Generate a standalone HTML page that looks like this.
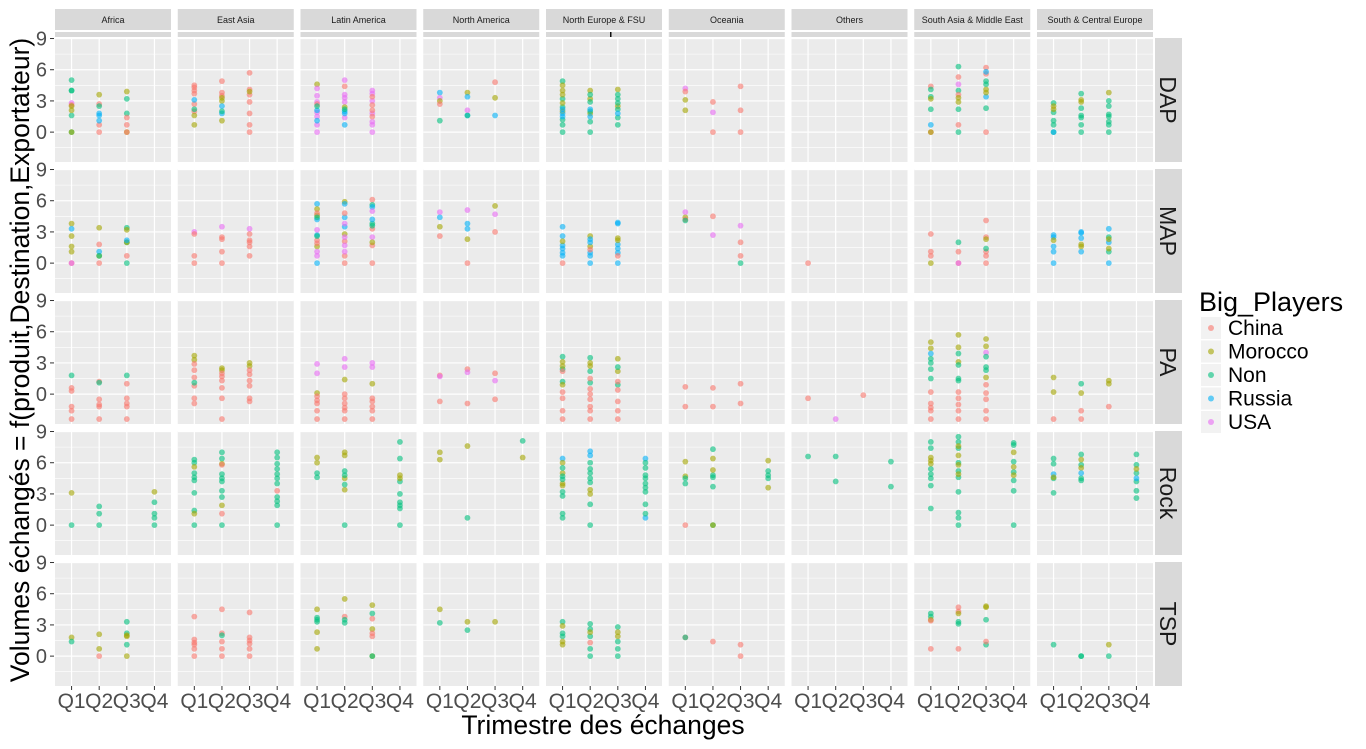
<!DOCTYPE html>
<html><head><meta charset="utf-8"><style>
body{margin:0;background:#fff;}
svg text{font-family:"Liberation Sans",sans-serif;}
</style></head><body>
<svg id="chart" width="1366" height="744" xmlns="http://www.w3.org/2000/svg"></svg>
<script>
const regions = ["Africa","East Asia","Latin America","North America","North Europe & FSU","Oceania","Others","South Asia & Middle East","South & Central Europe"];
const products = ["DAP","MAP","PA","Rock","TSP"];
const quarters = ["Q1","Q2","Q3","Q4"];
const yTicks = [0,3,6,9];
const players = ["China","Morocco","Non","Russia","USA"];
const playerCodes = ["C","M","N","R","U"];
const playerColors = ["#F8766D","#A3A500","#00BF7D","#00B0F6","#E76BF3"];
// [region, quarter, player, values]
const dapData = [
[0,1,"N",[5,4,4,1.6,0]],[0,1,"U",[2.8]],[0,1,"C",[2.6]],[0,1,"M",[2.5,2.1,0]],
[0,2,"M",[3.6]],[0,2,"C",[2.7,0.7,0]],[0,2,"N",[2.5]],[0,2,"R",[1.8,1.6,1.1]],
[0,3,"M",[3.9,0]],[0,3,"N",[3.2,1.8]],[0,3,"C",[1.4,0.7,0]],
[1,1,"C",[4.5,4.3,4.0,3.7,2.7,2.0]],[1,1,"R",[3.1]],[1,1,"N",[2.2]],[1,1,"M",[1.6,0.7]],
[1,2,"C",[4.9,3.8,3.5]],[1,2,"M",[3.3,3.0,1.1]],[1,2,"R",[2.5,1.8]],[1,2,"N",[2.0]],
[1,3,"C",[5.7,4.1,3.6,2.9,1.8,0.7,0]],[1,3,"M",[3.9]],
[2,1,"M",[4.6]],[2,1,"U",[4.2,3.5,2.9,1.9,1.5,0.7,0]],[2,1,"C",[2.7]],[2,1,"R",[2.1,1.1]],[2,1,"N",[2.5]],
[2,2,"U",[5.0,3.6,3.3,2.9,1.4]],[2,2,"C",[4.4]],[2,2,"M",[2.4]],[2,2,"R",[2.0,1.8,0.7]],[2,2,"N",[2.2]],
[2,3,"U",[4.0,3.7,3.0,1.8,1.0,0.7,0]],[2,3,"C",[3.4,2.6,2.1,1.5]],
[3,1,"R",[3.8]],[3,1,"U",[3.3]],[3,1,"M",[3.0]],[3,1,"C",[2.7]],[3,1,"N",[1.1]],
[3,2,"M",[3.8]],[3,2,"R",[3.4,1.6]],[3,2,"U",[2.1]],[3,2,"N",[1.6]],
[3,3,"C",[4.8]],[3,3,"M",[3.3]],[3,3,"R",[1.6]],
[4,1,"N",[4.9,3.2,2.4,1.2,0.7,0]],[4,1,"M",[4.5,4.0,3.6,2.8,2.0]],[4,1,"R",[2.2,1.8,1.5]],
[4,2,"M",[4.0,3.2,1.8]],[4,2,"N",[3.6,2.9,2.0,1.0,0]],[4,2,"R",[2.2,1.5]],
[4,3,"M",[4.1,2.5]],[4,3,"N",[3.6,3.2,2.8,2.2,1.4,0.7]],[4,3,"R",[1.8]],
[5,1,"U",[4.2]],[5,1,"C",[3.9]],[5,1,"M",[3.1,2.1]],
[5,2,"C",[2.9,0]],[5,2,"U",[1.9]],
[5,3,"C",[4.4,2.1,0]],
[7,1,"C",[4.4,0]],[7,1,"N",[4.1,3.4,2.2]],[7,1,"M",[3.2,0]],[7,1,"R",[0.7]],
[7,2,"N",[6.3,4.0,2.2,0]],[7,2,"C",[5.3,3.6,0.7]],[7,2,"U",[4.6]],[7,2,"M",[3.3,2.9]],
[7,3,"C",[6.2,5.6,0]],[7,3,"R",[5.8,3.4]],[7,3,"N",[4.9,4.6,2.3]],[7,3,"M",[4.1,3.8]],
[8,1,"N",[2.8,1.9,1.1,0.7,0]],[8,1,"M",[2.5,2.2]],[8,1,"R",[0]],
[8,2,"N",[3.7,2.3,1.6,1.4,0.7,0]],[8,2,"M",[3.1,2.9]],
[8,3,"M",[3.8]],[8,3,"N",[3.0,2.5,1.7,1.5,1.0,0.7,0]]
];
const mapData = [
[0,1,"M",[3.8,2.6,1.6,1.1]],[0,1,"R",[3.3]],[0,1,"C",[0]],[0,1,"U",[0]],
[0,2,"M",[3.4,0.7]],[0,2,"C",[1.8,0]],[0,2,"R",[1.1]],[0,2,"N",[0.7]],
[0,3,"N",[3.4,2.0,0]],[0,3,"M",[3.2,2.0]],[0,3,"R",[2.2]],[0,3,"C",[0.7]],
[1,1,"U",[3.0]],[1,1,"C",[2.8,0.7,0]],
[1,2,"U",[3.5]],[1,2,"C",[2.5,2.3,1.1,0]],
[1,3,"U",[3.3]],[1,3,"C",[2.8,2.2,2.0,1.6,0.7]],
[2,1,"R",[5.7,4.2,2.7,0]],[2,1,"M",[5.2,4.6,1.6]],[2,1,"C",[4.8,2.2,1.9]],[2,1,"N",[4.4,2.6]],[2,1,"U",[3.2,1.1,0.7]],
[2,2,"M",[5.9,2.8]],[2,2,"R",[5.7,4.4,3.5]],[2,2,"C",[4.8,2.1,0.7,0]],[2,2,"U",[3.8,2.5,1.7,1.1]],
[2,3,"C",[6.1,3.3,1.7,0]],[2,3,"N",[5.6,3.8,3.6]],[2,3,"R",[5.4,4.2]],[2,3,"U",[5.0,2.5]],[2,3,"M",[2.0]],
[3,1,"U",[4.9]],[3,1,"R",[4.4]],[3,1,"M",[3.5]],[3,1,"C",[2.6]],
[3,2,"U",[5.1]],[3,2,"R",[3.8,3.3]],[3,2,"M",[2.3]],[3,2,"C",[0]],
[3,3,"M",[5.5]],[3,3,"U",[4.7]],[3,3,"C",[3.0]],
[4,1,"R",[3.5,2.6,1.7,1.4,1.0,0.7]],[4,1,"M",[2.1]],[4,1,"C",[0]],
[4,2,"M",[2.6,1.6]],[4,2,"R",[2.3,2.0,1.0,0.7,0]],[4,2,"C",[1.3]],
[4,3,"R",[3.9,3.8,1.8,1.4,1.0,0]],[4,3,"M",[2.4,2.2]],[4,3,"C",[0.7]],
[5,1,"U",[4.9]],[5,1,"M",[4.4]],[5,1,"C",[4.2]],[5,1,"N",[4.1]],
[5,2,"C",[4.5]],[5,2,"U",[2.7]],
[5,3,"U",[3.6]],[5,3,"C",[2.0,0.7]],[5,3,"N",[0]],
[6,1,"C",[0]],
[7,1,"C",[2.8,1.1,0.7]],[7,1,"M",[0]],
[7,2,"N",[2.0]],[7,2,"C",[1.1,0]],[7,2,"U",[0]],
[7,3,"C",[4.1,2.5,1.1,0.7,0]],[7,3,"M",[2.3]],[7,3,"N",[1.4]],
[8,1,"R",[2.7,2.5,1.6,1.1,0]],[8,1,"M",[2.2]],
[8,2,"R",[3.0,2.9,2.4,1.1]],[8,2,"M",[1.8,1.6]],
[8,3,"R",[3.3,2.0,0]],[8,3,"N",[2.5,1.1]],[8,3,"M",[2.3,1.4]]
];
const paData = [
[0,1,"N",[1.8]],[0,1,"C",[0.6,0.3,-1.2,-1.6,-2.4]],
[0,2,"C",[1.2,-0.5,-1.0,-1.2,-2.4]],[0,2,"N",[1.1]],
[0,3,"N",[1.8]],[0,3,"C",[1.0,-0.4,-0.9,-1.2,-2.4]],
[1,1,"M",[3.7,3.3]],[1,1,"C",[2.9,2.3,1.6,0.8,-0.4,-0.9]],[1,1,"N",[1.1]],
[1,2,"M",[2.5,2.3]],[1,2,"C",[2.0,1.7,1.3,0.6,-0.4,-2.4]],
[1,3,"M",[3.0,2.7]],[1,3,"C",[2.3,1.9,1.3,0.8,-0.4,-0.7]],
[2,1,"U",[2.9,2.0]],[2,1,"M",[0.1]],[2,1,"C",[-0.2,-0.6,-0.9,-1.6,-2.4]],
[2,2,"U",[3.4,2.6]],[2,2,"M",[1.4]],[2,2,"C",[0,-0.4,-0.9,-1.3,-1.6,-2.4]],
[2,3,"U",[3.0,2.6]],[2,3,"M",[1.0]],[2,3,"C",[-0.4,-0.7,-1.2,-1.6,-2.4]],
[3,1,"C",[1.8,-0.7]],[3,1,"U",[1.7]],
[3,2,"C",[2.4,-0.9]],[3,2,"U",[2.1]],
[3,3,"C",[2.0,-0.5]],[3,3,"U",[1.3]],
[4,1,"N",[3.6,2.4,1.2]],[4,1,"M",[3.1,2.7,0.9]],[4,1,"C",[2.2,0.2,-0.4,-1.6,-2.4]],
[4,2,"N",[3.5,2.2,1.1]],[4,2,"M",[3.0,2.7]],[4,2,"C",[1.5,0.5,0,-0.5,-1.2,-1.6,-2.4]],
[4,3,"M",[3.4,2.2]],[4,3,"N",[2.6,0.9]],[4,3,"C",[1.2,0.4,-0.7,-1.6,-2.4]],
[5,1,"C",[0.7,-1.2]],[5,2,"C",[0.6,-1.2]],[5,3,"C",[1.0,-0.9]],
[6,1,"C",[-0.4]],[6,2,"U",[-2.4]],[6,3,"C",[-0.1]],
[7,1,"M",[5.0,4.4]],[7,1,"R",[3.9]],[7,1,"N",[3.4,3.0,2.4,1.5]],[7,1,"C",[0.2,-0.9,-1.3,-1.6,-2.4]],
[7,2,"M",[5.7,4.5,3.1]],[7,2,"N",[3.9,2.8,1.5,1.3]],[7,2,"C",[0.2,-0.4,-1.0,-1.6,-2.4]],
[7,3,"M",[5.3,4.6,1.6]],[7,3,"U",[4.0]],[7,3,"N",[3.6,2.6,2.3]],[7,3,"C",[0.9,0.1,-0.5,-1.6,-2.4]],
[8,1,"M",[1.6,0.2]],[8,1,"C",[-2.4]],
[8,2,"N",[1.0]],[8,2,"M",[0.1]],[8,2,"C",[-1.6,-2.4]],
[8,3,"M",[1.3,1.0]],[8,3,"C",[-1.2]]
];
const rockData = [
[0,1,"M",[3.1]],[0,1,"N",[0]],
[0,2,"N",[1.8,1.1,0]],
[0,4,"M",[3.2]],[0,4,"N",[2.2,1.1,0.7,0]],
[1,1,"N",[6.3,6.0,5.0,4.6,4.3,3.1,1.4,0]],[1,1,"M",[5.6,1.1]],
[1,2,"N",[7.0,6.4,4.9,4.5,4.2,3.3,2.7,0]],[1,2,"M",[5.9,1.9]],[1,2,"C",[5.8,1.1]],
[1,4,"N",[7.0,6.5,5.9,5.4,4.9,4.5,4.0,2.7,2.3,1.9,0]],[1,4,"C",[3.3]],
[2,1,"M",[6.5,6.0]],[2,1,"N",[5.0,4.6]],
[2,2,"M",[7.0,6.7,4.5,3.4]],[2,2,"N",[5.2,4.8,3.9,0]],
[2,4,"N",[8.0,6.4,4.2,3.0,2.2,1.9,1.6,0]],[2,4,"M",[4.8,4.5]],
[3,1,"M",[7.0,6.3]],[3,2,"M",[7.6]],[3,2,"N",[0.7]],[3,4,"N",[8.1]],[3,4,"M",[6.5]],
[4,1,"R",[6.4]],[4,1,"M",[6.0,5.0,4.0,3.8]],[4,1,"N",[5.5,4.7,4.4,3.2,2.8,1.1,0.7]],
[4,2,"R",[7.1,6.7]],[4,2,"N",[6.0,5.4,5.0,4.5,4.1,2.0,0]],[4,2,"M",[3.4,3.0]],
[4,4,"R",[6.4,0.7]],[4,4,"N",[6.0,5.5,4.8,4.5,4.0,3.6,3.2,2.0,1.1]],
[5,1,"M",[6.1,4.7]],[5,1,"N",[4.5,4.0]],[5,1,"C",[0]],
[5,2,"N",[7.3,4.8,4.6,3.7,0]],[5,2,"M",[6.4,5.3,0]],
[5,4,"M",[6.2,3.6]],[5,4,"N",[5.2,4.8,4.5]],
[6,1,"N",[6.6]],[6,2,"N",[6.6,4.2]],[6,4,"N",[6.1,3.7]],
[7,1,"N",[8.0,7.4,5.4,4.9,4.5,3.8,1.6]],[7,1,"M",[6.5,6.2,5.9]],
[7,2,"N",[8.5,8.0,7.4,6.0,5.2,4.6,3.2,1.2,0.7,0]],[7,2,"M",[7.6,6.7,5.8,4.9]],
[7,4,"N",[7.9,7.7,6.1,5.1,4.3,3.3,0]],[7,4,"M",[7.0,5.6,4.8]],
[8,1,"N",[6.4,5.9,4.5,3.1]],[8,1,"R",[4.9]],[8,1,"M",[4.6]],
[8,2,"N",[6.8,5.8,4.5,4.3]],[8,2,"M",[6.3,5.5]],[8,2,"R",[5.0]],
[8,4,"N",[6.8,5.8,5.0,4.2,3.3,2.6]],[8,4,"M",[5.4]],[8,4,"R",[4.5]]
];
const tspData = [
[0,1,"M",[1.8]],[0,1,"N",[1.4]],
[0,2,"M",[2.1,0.7]],[0,2,"C",[0]],
[0,3,"N",[3.3,2.2,1.1]],[0,3,"M",[2.0,1.9,0]],
[1,1,"C",[3.8,1.6,1.3,1.1,0.7,0]],
[1,2,"C",[4.5,2.2,1.4,0.7,0]],[1,2,"N",[2.0]],
[1,3,"C",[4.2,1.8,1.5,1.2,0.7,0]],
[2,1,"M",[4.5,2.3,0.7]],[2,1,"N",[3.7,3.5,3.3]],
[2,2,"M",[5.5]],[2,2,"C",[3.8]],[2,2,"N",[3.5,3.2]],
[2,3,"M",[4.9,2.6,0]],[2,3,"N",[4.1,0]],[2,3,"C",[3.6,2.2,1.9]],
[3,1,"M",[4.5]],[3,1,"N",[3.2]],
[3,2,"M",[3.3]],[3,2,"N",[2.5]],
[3,3,"M",[3.3]],
[4,1,"N",[3.3,2.2,1.9]],[4,1,"M",[2.9,1.4,1.1]],
[4,2,"N",[3.1,2.6,1.9,0.7,0]],[4,2,"M",[2.3]],[4,2,"C",[1.3]],
[4,3,"N",[2.8,1.4,0.7,0]],[4,3,"M",[2.3,1.9]],
[5,1,"C",[1.8]],[5,1,"N",[1.8]],[5,2,"C",[1.4]],[5,3,"C",[1.1,0]],
[7,1,"N",[4.1,3.8]],[7,1,"M",[3.5]],[7,1,"C",[3.4,0.7]],
[7,2,"C",[4.7,4.3,0.7]],[7,2,"M",[4.1]],[7,2,"N",[3.3,3.1]],
[7,3,"M",[4.8,4.7]],[7,3,"N",[3.5,1.1]],[7,3,"C",[1.4]],
[8,1,"N",[1.1]],[8,2,"N",[0,0]],[8,3,"M",[1.1]],[8,3,"N",[0]]
];
const productData = [dapData,mapData,paData,rockData,tspData];

const NS = "http://www.w3.org/2000/svg";
const svg = document.getElementById("chart");
function mk(tag, attrs, parent){
  const e = document.createElementNS(NS, tag);
  for (const k in attrs) e.setAttribute(k, attrs[k]);
  (parent||svg).appendChild(e);
  return e;
}
const panelW = 116, panelH = 124, colStep = 122.75, rowStep = 131, left0 = 55, top0 = 38;
const yMax = 9.05, yPx = 10.4;
function xScale(col, q){ return left0 + col*colStep + (q-0.4)/4.2*panelW; }
function yScale(row, v){ return top0 + row*rowStep + (yMax - v)*yPx; }

regions.forEach((r,i)=>{
  const x = left0 + i*colStep;
  const s = mk("rect",{x:x,y:9,width:panelW,height:21,fill:"#d9d9d9"});
  
  
  const b = mk("rect",{x:x,y:32,width:panelW,height:5,fill:"#d9d9d9"});
  
  
  const t = mk("text",{x:x+panelW/2,y:23,"text-anchor":"middle","font-size":"9","fill":"#1a1a1a"});
  t.textContent = r;
  
  
});
mk("rect",{x:610,y:32,width:1.5,height:5,fill:"#111"});

products.forEach((p,j)=>{
  const top = top0 + j*rowStep;
  const rs = mk("rect",{x:1155,y:top,width:27,height:panelH,fill:"#d9d9d9"});
  
  
  const rt = mk("text",{x:0,y:0,"text-anchor":"middle","font-size":"23","fill":"#1a1a1a",transform:`translate(1160,${top+panelH/2}) rotate(90)`});
  rt.textContent = p;
  
  
  yTicks.forEach(v=>{
    const y = yScale(j,v);
    const t = mk("text",{x:47,y:y+7,"text-anchor":"end","font-size":"20","fill":"#4d4d4d"});
    t.textContent = v;
    
    
    mk("line",{x1:50,x2:54,y1:y,y2:y,stroke:"#333","stroke-width":1});
  });
  regions.forEach((r,i)=>{
    const x = left0 + i*colStep;
    const bg = mk("rect",{x:x,y:top,width:panelW,height:panelH,fill:"#ebebeb"});
    
    
    [-1.5,1.5,4.5,7.5].forEach(v=>{
      const y = yScale(j,v);
      mk("line",{x1:x,x2:x+panelW,y1:y,y2:y,stroke:"#fff","stroke-width":0.6});
    });
    yTicks.forEach(v=>{
      const y = yScale(j,v);
      mk("line",{x1:x,x2:x+panelW,y1:y,y2:y,stroke:"#fff","stroke-width":1.2});
    });
    quarters.forEach((q,k)=>{
      const xx = xScale(i,k+1);
      mk("line",{x1:xx,x2:xx,y1:top,y2:top+panelH,stroke:"#fff","stroke-width":1.2});
    });
  });
  productData[j].forEach(g=>{
    const pi = playerCodes.indexOf(g[2]);
    g[3].forEach(v=>{
      const c = mk("circle",{cx:xScale(g[0],g[1]),cy:yScale(j,v),r:2.9,fill:playerColors[pi],"fill-opacity":0.6});
      
      
    });
  });
});

regions.forEach((r,i)=>{
  quarters.forEach((q,k)=>{
    const xx = xScale(i,k+1);
    mk("line",{x1:xx,x2:xx,y1:686,y2:690,stroke:"#333","stroke-width":1});
    const t = mk("text",{x:xx,y:708,"text-anchor":"middle","font-size":"21","fill":"#4d4d4d"});
    t.textContent = q;
    
    
  });
});

const xt = mk("text",{x:603,y:734,"text-anchor":"middle","font-size":"26.5","fill":"#000"});
xt.textContent = "Trimestre des échanges";


const yt = mk("text",{x:0,y:0,"text-anchor":"middle","font-size":"26.5","fill":"#000",transform:"translate(29,360) rotate(-90)"});
yt.textContent = "Volumes échangés = f(produit,Destination,Exportateur)";



const lt = mk("text",{x:1199,y:311,"font-size":"27","fill":"#000"});
lt.textContent = "Big_Players";


players.forEach((p,k)=>{
  const y = 328 + k*23.5;
  mk("rect",{x:1201,y:y-11,width:20,height:22,fill:"#f2f2f2"});
  const c = mk("circle",{cx:1211,cy:y,r:3,fill:playerColors[k],"fill-opacity":0.6});
  
  
  const t = mk("text",{x:1228,y:y+7,"font-size":"21","fill":"#000"});
  t.textContent = p;
  
  
});
</script>
</body></html>
